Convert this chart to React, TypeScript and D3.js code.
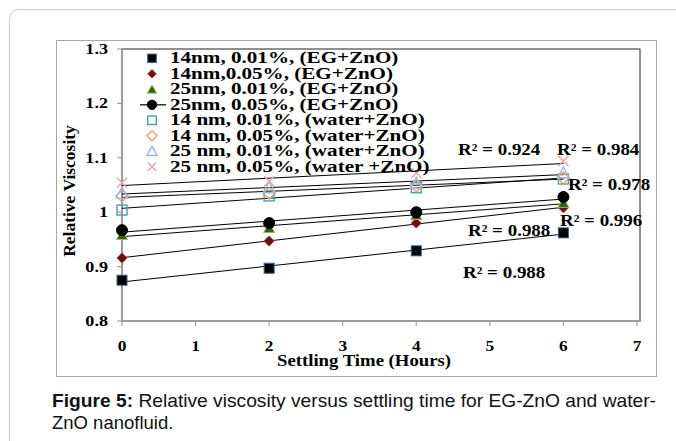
import React from "react";
import * as d3 from "d3";

// Settling times (hours) at which viscosity was measured
const hours = [0, 2, 4, 6];

const seriesNames = [
  "14nm, 0.01%, (EG+ZnO)",
  "14nm,0.05%, (EG+ZnO)",
  "25nm, 0.01%, (EG+ZnO)",
  "25nm, 0.05%, (EG+ZnO)",
  "14 nm, 0.01%, (water+ZnO)",
  "14 nm, 0.05%, (water+ZnO)",
  "25 nm, 0.01%, (water+ZnO)",
  "25 nm, 0.05%, (water +ZnO)",
];

const eg14_001 = [0.875, 0.897, 0.929, 0.962];
const eg14_005 = [0.916, 0.947, 0.98, 1.008];
const eg25_001 = [0.958, 0.971, 0.995, 1.017];
const eg25_005 = [0.967, 0.98, 1.0, 1.028];
const w14_001 = [1.004, 1.03, 1.045, 1.061];
const w14_005 = [1.03, 1.035, 1.048, 1.063];
const w25_001 = [1.035, 1.045, 1.053, 1.072];
const w25_005 = [1.054, 1.057, 1.072, 1.094];

const seriesValues = [eg14_001, eg14_005, eg25_001, eg25_005, w14_001, w14_005, w25_001, w25_005];

const xTicks = [0, 1, 2, 3, 4, 5, 6, 7];
const yTicks = [0.8, 0.9, 1.0, 1.1, 1.2, 1.3];

// Coefficient-of-determination labels, placed in data units (text baseline)
const r2Labels = [
  { text: "R² = 0.924", x: 4.567, y: 1.105 },
  { text: "R² = 0.984", x: 5.913, y: 1.105 },
  { text: "R² = 0.978", x: 6.062, y: 1.041 },
  { text: "R² = 0.996", x: 5.953, y: 0.975 },
  { text: "R² = 0.988", x: 4.703, y: 0.956 },
  { text: "R² = 0.988", x: 4.635, y: 0.879 },
];

type Marker = "square" | "diamond" | "triangle" | "circle" | "osquare" | "odiamond" | "otriangle" | "cross";
const markers: Marker[] = ["square", "diamond", "triangle", "circle", "osquare", "odiamond", "otriangle", "cross"];
const fills = ["#000000", "#6b0f12", "#3a5a1a", "#000000", "none", "none", "none", "none"];
const strokes = ["#3b5f8a", "#b03030", "#9ab85a", "#000000", "#4a9cb8", "#e8a070", "#a0b4dc", "#e0a8a8"];

const serif = "'Liberation Serif', 'Times New Roman', serif";
const sans = "'Liberation Sans', Arial, sans-serif";

function fit(xs: number[], ys: number[]) {
  const mx = d3.mean(xs)!;
  const my = d3.mean(ys)!;
  let num = 0;
  let den = 0;
  xs.forEach((x, i) => {
    num += (x - mx) * (ys[i] - my);
    den += (x - mx) * (x - mx);
  });
  const b = num / den;
  return { a: my - b * mx, b };
}

// Bold serif text, widened horizontally
function WideText({
  x,
  y,
  sx = 1.3,
  size = 16,
  anchor = "start",
  rotate = 0,
  children,
}: {
  x: number;
  y: number;
  sx?: number;
  size?: number;
  anchor?: "start" | "middle" | "end";
  rotate?: number;
  children: React.ReactNode;
}) {
  return (
    <text
      transform={`translate(${x},${y}) rotate(${rotate}) scale(${sx},1)`}
      textAnchor={anchor}
      fontFamily={serif}
      fontWeight="bold"
      fontSize={size}
      fill="#000"
    >
      {children}
    </text>
  );
}

function MarkerShape({ kind, cx, cy, fill, stroke, size = 1 }: { kind: Marker; cx: number; cy: number; fill: string; stroke: string; size?: number }) {
  const s = size;
  switch (kind) {
    case "square":
      return <rect x={cx - 5 * s} y={cy - 5 * s} width={10 * s} height={10 * s} fill={fill} stroke={stroke} strokeWidth={1} />;
    case "osquare":
      return <rect x={cx - 5 * s} y={cy - 5 * s} width={10 * s} height={10 * s} fill="none" stroke={stroke} strokeWidth={1.4} />;
    case "diamond":
      return <path d={`M${cx},${cy - 5 * s}L${cx + 5 * s},${cy}L${cx},${cy + 5 * s}L${cx - 5 * s},${cy}Z`} fill={fill} stroke={stroke} strokeWidth={1} />;
    case "odiamond":
      return <path d={`M${cx},${cy - 6 * s}L${cx + 6 * s},${cy}L${cx},${cy + 6 * s}L${cx - 6 * s},${cy}Z`} fill="none" stroke={stroke} strokeWidth={1.4} />;
    case "triangle":
      return <path d={`M${cx},${cy - 5 * s}L${cx + 5.5 * s},${cy + 4.5 * s}L${cx - 5.5 * s},${cy + 4.5 * s}Z`} fill={fill} stroke={stroke} strokeWidth={1} />;
    case "otriangle":
      return <path d={`M${cx},${cy - 6 * s}L${cx + 6 * s},${cy + 5 * s}L${cx - 6 * s},${cy + 5 * s}Z`} fill="none" stroke={stroke} strokeWidth={1.4} />;
    case "circle":
      return <circle cx={cx} cy={cy} r={5.5 * s} fill={fill} stroke={stroke} />;
    case "cross":
      return (
        <path
          d={`M${cx - 5 * s},${cy - 5 * s}L${cx + 5 * s},${cy + 5 * s}M${cx + 5 * s},${cy - 5 * s}L${cx - 5 * s},${cy + 5 * s}`}
          stroke={stroke}
          strokeWidth={1.4}
          fill="none"
        />
      );
  }
}

export default function App() {
  const W = 676;
  const H = 441;
  const plot = { left: 122, right: 637, top: 49, bottom: 321 };
  const x = d3.scaleLinear().domain([0, 7]).range([plot.left, plot.right]);
  const y = d3.scaleLinear().domain([0.8, 1.3]).range([plot.bottom, plot.top]);

  return (
    <svg width={W} height={H} style={{ position: "absolute", left: 0, top: 0, background: "#fff" }}>
      <rect x={9.5} y={9.5} width={700} height={480} rx={9} fill="#fff" stroke="#c8c8c8" />
      <rect x={56.5} y={40.5} width={600} height={336} fill="#fff" stroke="#a8a8a8" />

      {/* plot frame */}
      <rect x={plot.left} y={plot.top} width={plot.right + 3 - plot.left} height={plot.bottom - plot.top} fill="none" stroke="#222" strokeWidth={1} />

      {/* axes */}
      <line x1={plot.left} x2={plot.left} y1={plot.top} y2={plot.bottom} stroke="#a0a0a0" strokeWidth={1.5} />
      <line x1={plot.left} x2={plot.right + 3} y1={plot.bottom} y2={plot.bottom} stroke="#a0a0a0" strokeWidth={1.5} />
      {xTicks.map((t) => (
        <g key={`x${t}`}>
          <line x1={x(t)} x2={x(t)} y1={plot.bottom} y2={plot.bottom + 5} stroke="#a0a0a0" strokeWidth={1.2} />
          <WideText x={x(t)} y={351} anchor="middle" sx={1.12} size={15.5}>
            {t}
          </WideText>
        </g>
      ))}
      {yTicks.map((t) => (
        <g key={`y${t}`}>
          <line x1={plot.left - 5} x2={plot.left} y1={y(t)} y2={y(t)} stroke="#a0a0a0" strokeWidth={1.2} />
          <WideText x={plot.left - 14} y={y(t) + 5} anchor="end" sx={1.17} size={15.5}>
            {d3.format("")(+t.toFixed(1))}
          </WideText>
        </g>
      ))}
      <WideText x={364} y={366} anchor="middle" sx={1.07} size={17.5}>
        Settling Time (Hours)
      </WideText>
      <text
        transform="translate(75,191) rotate(-90) scale(1.03,1)"
        textAnchor="middle"
        fontFamily={serif}
        fontWeight="bold"
        fontSize={17}
      >
        Relative Viscosity
      </text>

      {/* linear trend lines */}
      {seriesValues.map((vals, i) => {
        const { a, b } = fit(hours, vals);
        return (
          <path
            key={`t${i}`}
            d={d3.line<number>().x((d) => x(d)).y((d) => y(a + b * d))([0, 6])!}
            stroke="#000"
            strokeWidth={1}
            fill="none"
          />
        );
      })}

      {/* data markers */}
      {seriesValues.map((vals, i) => (
        <g key={`s${i}`}>
          {vals.map((v, j) => (
            <MarkerShape key={j} kind={markers[i]} cx={x(hours[j])} cy={y(v)} fill={fills[i]} stroke={strokes[i]} />
          ))}
        </g>
      ))}

      {/* R² annotations */}
      {r2Labels.map((l, i) => (
        <WideText key={`r${i}`} x={x(l.x)} y={y(l.y)} sx={1.15} size={16.5}>
          {l.text}
        </WideText>
      ))}

      {/* legend */}
      {seriesNames.map((name, i) => {
        const ly = 58.3 + i * 15.5;
        const mx = 152;
        return (
          <g key={`l${i}`}>
            {i === 3 && <line x1={mx - 12} x2={mx + 14} y1={ly} y2={ly} stroke="#000" strokeWidth={1.2} />}
            <MarkerShape kind={markers[i]} cx={mx} cy={ly} fill={fills[i]} stroke={strokes[i]} size={0.85} />
            <WideText x={170} y={ly + 5} sx={1.32} size={16}>
              {name}
            </WideText>
          </g>
        );
      })}

      {/* caption */}
      <text x={52} y={407} fontFamily={sans} fontSize={18.5} fill="#111" textLength={604} lengthAdjust="spacingAndGlyphs">
        <tspan fontWeight="bold">Figure 5:</tspan> Relative viscosity versus settling time for EG-ZnO and water-
      </text>
      <text x={52} y={429} fontFamily={sans} fontSize={18.5} fill="#111">
        ZnO nanofluid.
      </text>
    </svg>
  );
}
